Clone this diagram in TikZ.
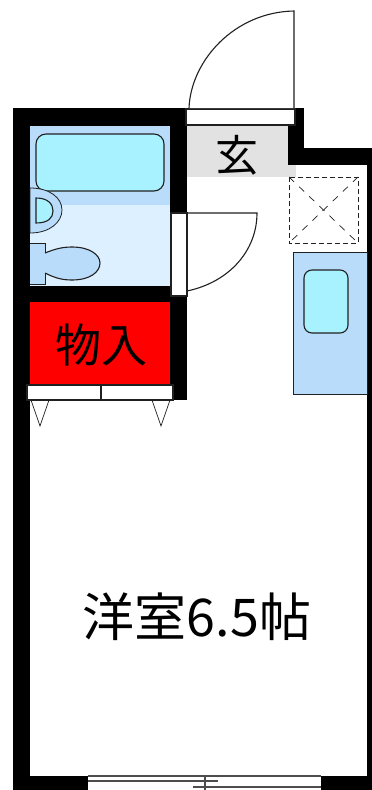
\documentclass[tikz,border=0pt]{standalone}
\usepackage{fontspec}
\setmainfont{Noto Sans CJK JP}
\definecolor{bluefill}{HTML}{B9DCFB}
\definecolor{lightfill}{HTML}{DDF0FF}
\definecolor{aquafill}{HTML}{A8F2FF}
\definecolor{genkan}{HTML}{E2E2E2}
\definecolor{edge}{HTML}{202020}
\tikzset{
  wall/.style={fill=black,draw=none},
  fixture/.style={draw=edge,line width=1.1pt},
  doorline/.style={draw=edge,line width=1.1pt,fill=white},
  label/.style={inner sep=0pt,text=black},
}
\begin{document}
\begin{tikzpicture}[x=1pt,y=-1pt]
\useasboundingbox (0,0) rectangle (372,790);
% floors
\fill[genkan] (187,126) rectangle (288,177);
\fill[genkan] (288,165) rectangle (296,177);
\fill[bluefill] (30,126) rectangle (170,205);
\fill[lightfill] (30,205) rectangle (170,286);
\fill[red] (30,302) rectangle (170,384);
% walls
\fill[wall] (12.5,108) rectangle (187,126);
\fill[wall] (12.5,108) rectangle (30,790);
\fill[wall] (170,108) rectangle (187,213);
\fill[wall] (30,286) rectangle (187,302);
\fill[wall] (170,286) rectangle (187,400);
\fill[wall] (288,108) rectangle (304,165);
\fill[wall] (288,148) rectangle (372,165);
\fill[wall] (367,148) rectangle (372,790);
\fill[wall] (12.5,776) rectangle (88,790);
\fill[wall] (321,776) rectangle (372,790);
% entrance door
\draw[doorline] (186,109) rectangle (295,125);
\draw[doorline] (189,108) .. controls (191,60) and (235,12) .. (294,11) -- (294,108);
% bathroom door
\draw[doorline] (171,213) rectangle (187,296);
\draw[doorline,fill=none] (187,213) -- (257,213) .. controls (257,250) and (230,282) .. (187,291);
% bath
\draw[fixture,fill=aquafill,rounded corners=10pt] (36,134) rectangle (164,191);
% basin
\draw[draw=edge,line width=0.8pt,fill=bluefill] (30,188) .. controls (50,188) and (62,198) .. (62,210) .. controls (62,222) and (50,233) .. (30,233) -- cycle;
\draw[fixture,fill=aquafill] (36,198) .. controls (48,198) and (53,204) .. (53,211) .. controls (53,218) and (48,223) .. (36,223) -- cycle;
% toilet
\draw[draw=edge,line width=0.8pt,fill=bluefill] (30,243) -- (45,243) -- (45,284) -- (30,284);
\draw[fixture,fill=bluefill] (45,253) .. controls (55,249) and (62,247) .. (72,247) .. controls (90,247) and (100,255) .. (100,263) .. controls (100,272) and (90,280) .. (72,280) .. controls (62,280) and (55,278) .. (45,273);
% closet doors
\draw[doorline] (27,385) rectangle (101,400);
\draw[doorline] (101,385) rectangle (173,400);
\draw[draw=edge,line width=0.7pt] (31,400) -- (40,426) -- (49,400);
\draw[draw=edge,line width=0.7pt] (152,400) -- (161,426) -- (170,400);
% washer pan
\draw[draw=edge,line width=1pt,dash pattern=on 5pt off 3pt] (289,177) rectangle (358,243);
\draw[draw=edge,line width=0.7pt,dash pattern=on 7pt off 7pt] (289,177) -- (358,243);
\draw[draw=edge,line width=0.7pt,dash pattern=on 7pt off 7pt] (358,177) -- (289,243);
% kitchen
\draw[draw=edge,line width=0.8pt,fill=bluefill] (293,252) rectangle (367,394);
\draw[fixture,fill=aquafill,rounded corners=8pt] (304,270) rectangle (348,333);
% window
\draw[draw=edge!80,line width=1.4pt] (88,776) -- (321,776);
\draw[draw=edge!80,line width=1.4pt] (88,781) -- (218,781);
\draw[draw=edge!80,line width=1.4pt] (193,787) -- (321,787);
\draw[draw=edge!80,line width=1.1pt] (205,776) -- (205,790);
% labels
\node[label,font=\fontsize{43}{43}\selectfont] (genkanlabel) at (237,155) {玄};
\node[label,font=\fontsize{46}{46}\selectfont] (storagelabel) at (101,345) {物入};
\node[label,font=\fontsize{52}{52}\selectfont] (roomlabel) at (197,617) {洋室6.5帖};
\end{tikzpicture}
\end{document}
